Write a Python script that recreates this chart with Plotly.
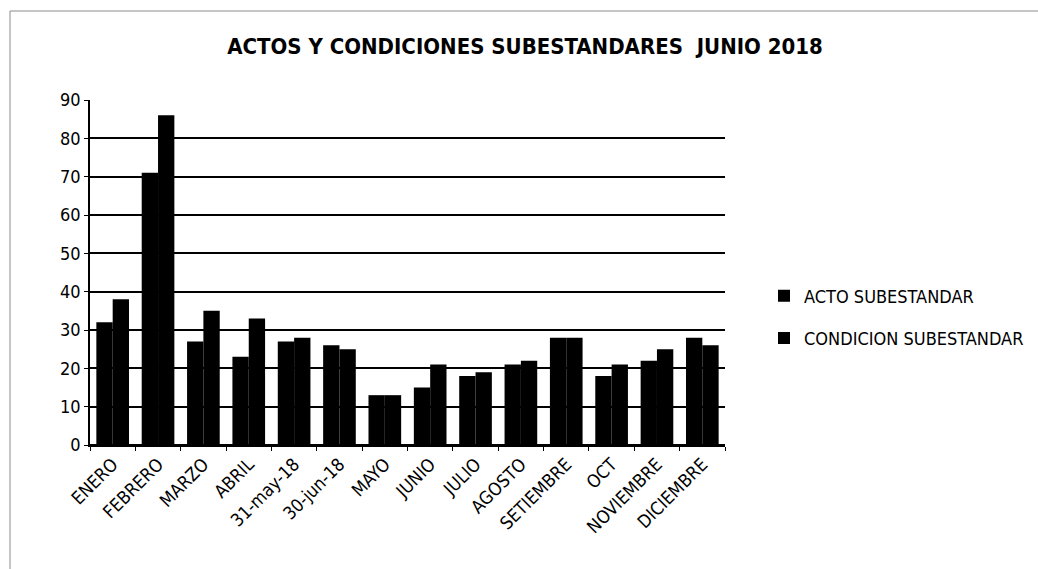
import plotly.graph_objects as go

meses = ["ENERO", "FEBRERO", "MARZO", "ABRIL", "31-may-18", "30-jun-18", "MAYO",
         "JUNIO", "JULIO", "AGOSTO", "SETIEMBRE", "OCT", "NOVIEMBRE", "DICIEMBRE"]
acto_subestandar = [32, 71, 27, 23, 27, 26, 13, 15, 18, 21, 28, 18, 22, 28]
condicion_subestandar = [38, 86, 35, 33, 28, 25, 13, 21, 19, 22, 28, 21, 25, 26]
y_ticks = [0, 10, 20, 30, 40, 50, 60, 70, 80, 90]

FONT = "DejaVu Sans Condensed, Liberation Sans, Arial, sans-serif"

fig = go.Figure()
fig.add_trace(go.Bar(x=meses, y=acto_subestandar, name="ACTO SUBESTANDAR",
                     legendgroup="acto",
                     marker=dict(color="#000000", line=dict(width=0))))
fig.add_trace(go.Bar(x=meses, y=condicion_subestandar, name="CONDICION SUBESTANDAR",
                     legendgroup="condicion",
                     marker=dict(color="#000000", line=dict(width=0))))

fig.update_layout(
    width=1038, height=569,
    paper_bgcolor="white", plot_bgcolor="white",
    barmode="group", bargap=0.28, bargroupgap=0.0,
    margin=dict(l=90, r=313, t=100, b=124),
    title=dict(text="<b>ACTOS Y CONDICIONES SUBESTANDARES  JUNIO 2018</b>",
               x=525 / 1038, xref="container", xanchor="center",
               y=1 - 46 / 569, yanchor="middle",
               font=dict(family=FONT, size=22, color="#000000")),
    font=dict(family=FONT, color="#000000"),
    showlegend=True,
    legend=dict(x=764 / 1038, xref="container", y=1 - 317 / 569, yref="container",
                xanchor="left", yanchor="middle", traceorder="grouped",
                font=dict(family=FONT, size=18, color="#000000"),
                itemwidth=30, tracegroupgap=16, bgcolor="rgba(0,0,0,0)"),
)
fig.update_yaxes(range=[0, 90], tickvals=y_ticks, showgrid=True,
                 gridcolor="#000000", gridwidth=1.5,
                 showline=True, linecolor="#000000", linewidth=1.5,
                 ticks="outside", ticklen=4, tickcolor="#000000",
                 tickfont=dict(family=FONT, size=18, color="#000000"),
                 zeroline=True, zerolinecolor="#000000", zerolinewidth=1.5)
fig.update_xaxes(tickangle=-45, showline=True, linecolor="#000000", linewidth=1.5,
                 ticks="outside", ticklen=4, tickcolor="#000000",
                 tickson="boundaries",
                 tickfont=dict(family=FONT, size=18, color="#000000"))

# Thin frame around the chart area, open to the right and bottom edges
fig.add_shape(type="rect", xref="paper", yref="paper",
              x0=-80 / 635, x1=1 + 330 / 635, y0=-1.0, y1=1 + 89 / 345,
              line=dict(color="#8c8c8c", width=1))

fig.write_html("out.html")
